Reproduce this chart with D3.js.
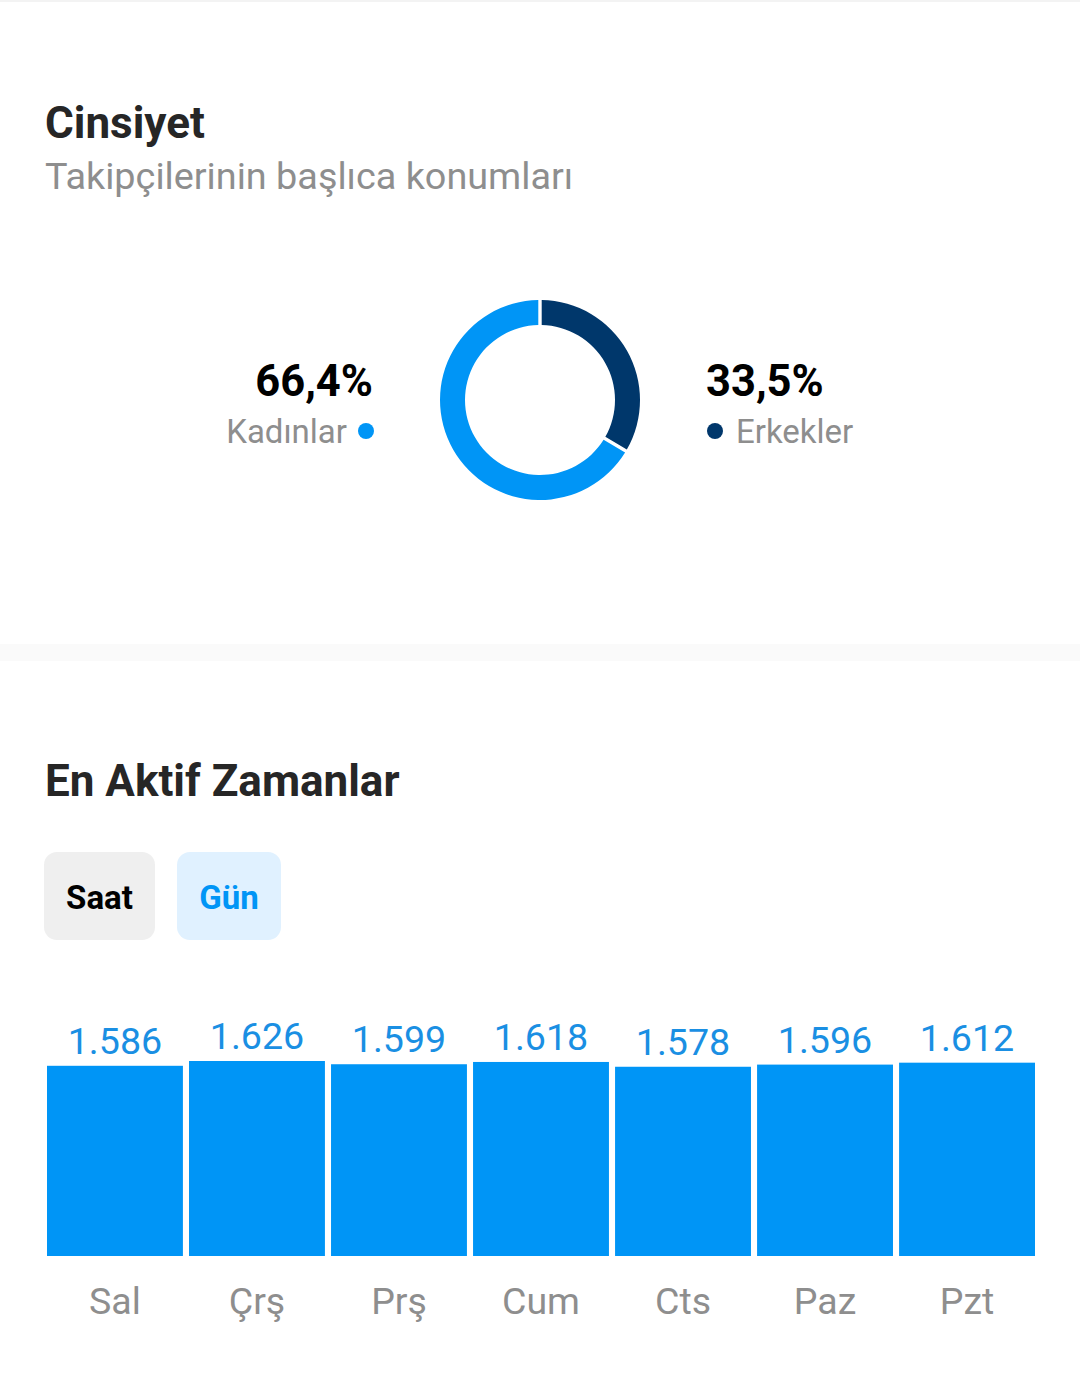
<!DOCTYPE html>
<html>
<head>
<meta charset="utf-8">
<script src="https://cdn.jsdelivr.net/npm/d3@7"></script>
<style>
  html, body { margin: 0; padding: 0; background: #fff; }
  svg { display: block; font-family: Roboto, "Noto Sans", sans-serif; }
</style>
</head>
<body>
<div id="chart"></div>
<script>
// gender split (donut)
var genderLabels = ["Erkekler", "Kadınlar"];
var genderValues = [33.5, 66.4];
var genderText = ["33,5%", "66,4%"];
var genderColors = ["#00376b", "#0095f6"];

// most active days (bars)
var days = ["Sal", "Çrş", "Prş", "Cum", "Cts", "Paz", "Pzt"];
var dayValues = [1586, 1626, 1599, 1618, 1578, 1596, 1612];
var dayText = ["1.586", "1.626", "1.599", "1.618", "1.578", "1.596", "1.612"];

var width = 1080, height = 1384;

var svg = d3.select("#chart")
    .append("svg")
    .attr("width", width)
    .attr("height", height);

svg.append("rect")
    .attr("x", 0).attr("y", 0)
    .attr("width", width).attr("height", 2)
    .attr("fill", "#f3f3f3");

// header
svg.append("text")
    .attr("x", 45).attr("y", 138)
    .attr("font-size", "44px")
    .attr("font-weight", "bold")
    .attr("fill", "#262626")
    .text("Cinsiyet");

svg.append("text")
    .attr("x", 45).attr("y", 189)
    .attr("font-size", "37.8px")
    .attr("fill", "#8e8e8e")
    .text("Takipçilerinin başlıca konumları");

// donut
var cx = 540, cy = 400, outerR = 100, innerR = 75;

var pie = d3.pie().sort(null).value(function (d) { return d; });
var arc = d3.arc()
    .innerRadius(innerR)
    .outerRadius(outerR)
    .padAngle(0.034)
    .padRadius(outerR);

var donut = svg.append("g").attr("transform", "translate(" + cx + "," + cy + ")");
donut.selectAll("path")
    .data(pie(genderValues))
    .enter()
    .append("path")
    .attr("d", arc)
    .attr("fill", function (d, i) { return genderColors[i]; });

// left legend (Kadınlar)
svg.append("text")
    .attr("x", 373).attr("y", 396)
    .attr("text-anchor", "end")
    .attr("font-size", "43.5px")
    .attr("font-weight", "bold")
    .attr("fill", "#000")
    .text(genderText[1]);
svg.append("text")
    .attr("x", 347).attr("y", 443)
    .attr("text-anchor", "end")
    .attr("font-size", "33px")
    .attr("fill", "#8e8e8e")
    .text(genderLabels[1]);
svg.append("circle")
    .attr("cx", 366).attr("cy", 431).attr("r", 8)
    .attr("fill", genderColors[1]);

// right legend (Erkekler)
svg.append("text")
    .attr("x", 706).attr("y", 396)
    .attr("font-size", "43.5px")
    .attr("font-weight", "bold")
    .attr("fill", "#000")
    .text(genderText[0]);
svg.append("circle")
    .attr("cx", 715).attr("cy", 431).attr("r", 8)
    .attr("fill", genderColors[0]);
svg.append("text")
    .attr("x", 736).attr("y", 443)
    .attr("font-size", "33px")
    .attr("fill", "#8e8e8e")
    .text(genderLabels[0]);

// separator band
svg.append("rect")
    .attr("x", 0).attr("y", 644)
    .attr("width", width).attr("height", 17)
    .attr("fill", "#fafafa");

// section 2 header
svg.append("text")
    .attr("x", 45).attr("y", 796)
    .attr("font-size", "44px")
    .attr("font-weight", "bold")
    .attr("fill", "#262626")
    .text("En Aktif Zamanlar");

// toggle buttons
svg.append("rect")
    .attr("x", 44).attr("y", 852)
    .attr("width", 111).attr("height", 88)
    .attr("rx", 13)
    .attr("fill", "#efefef");
svg.append("text")
    .attr("x", 99.5).attr("y", 909)
    .attr("text-anchor", "middle")
    .attr("font-size", "33px")
    .attr("font-weight", "bold")
    .attr("fill", "#000")
    .text("Saat");

svg.append("rect")
    .attr("x", 177).attr("y", 852)
    .attr("width", 104).attr("height", 88)
    .attr("rx", 13)
    .attr("fill", "#e0f1ff");
svg.append("text")
    .attr("x", 229).attr("y", 909)
    .attr("text-anchor", "middle")
    .attr("font-size", "33px")
    .attr("font-weight", "bold")
    .attr("fill", "#0095f6")
    .text("Gün");

// bars
var x = d3.scaleBand()
    .domain(days)
    .range([47, 1035])
    .paddingInner(0.043)
    .paddingOuter(0);

var y = d3.scaleLinear()
    .domain([0, d3.max(dayValues)])
    .range([1256, 1061]);

var bars = svg.append("g");
bars.selectAll("rect")
    .data(dayValues)
    .enter()
    .append("rect")
    .attr("x", function (d, i) { return x(days[i]); })
    .attr("y", function (d) { return y(d); })
    .attr("width", x.bandwidth())
    .attr("height", function (d) { return y(0) - y(d); })
    .attr("fill", "#0095f6");

bars.selectAll("text.val")
    .data(dayValues)
    .enter()
    .append("text")
    .attr("class", "val")
    .attr("x", function (d, i) { return x(days[i]) + x.bandwidth() / 2; })
    .attr("y", function (d) { return y(d) - 12; })
    .attr("text-anchor", "middle")
    .attr("font-size", "37.6px")
    .attr("fill", "#1a8fe3")
    .text(function (d, i) { return dayText[i]; });

// x axis labels
var xAxis = d3.axisBottom(x).tickSize(0).tickPadding(0);
var axisG = svg.append("g")
    .attr("transform", "translate(0,1256)")
    .call(xAxis);
axisG.select(".domain").remove();
axisG.selectAll("text")
    .attr("dy", null)
    .attr("y", 58)
    .attr("font-size", "37.5px")
    .attr("font-family", "Roboto, sans-serif")
    .attr("fill", "#8e8e8e");
</script>
</body>
</html>
